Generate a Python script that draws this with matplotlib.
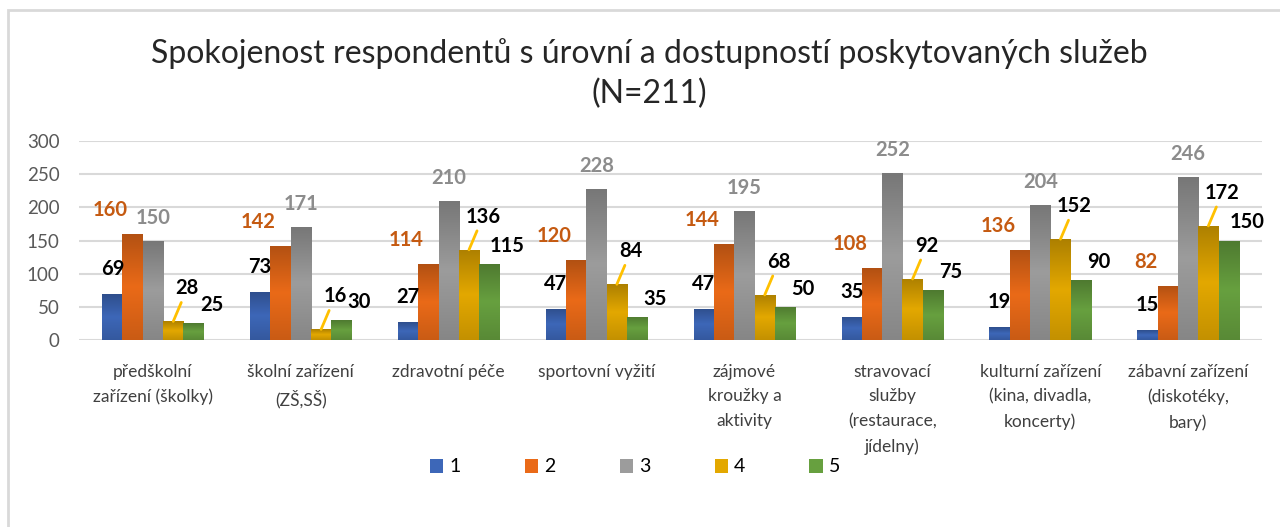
import numpy as np
import matplotlib
matplotlib.use("Agg")
import matplotlib.pyplot as plt
from matplotlib.colors import LinearSegmentedColormap, to_rgb
from matplotlib.patches import Rectangle, Patch

plt.rcParams['font.family'] = ['Lato', 'DejaVu Sans']

# data
categories = [
    "předškolní\nzařízení (školky)",
    "školní zařízení\n(ZŠ,SŠ)",
    "zdravotní péče",
    "sportovní vyžití",
    "zájmové\nkroužky a\naktivity",
    "stravovací\nslužby\n(restaurace,\njídelny)",
    "kulturní zařízení\n(kina, divadla,\nkoncerty)",
    "zábavní zařízení\n(diskotéky,\nbary)",
]
series_names = ["1", "2", "3", "4", "5"]
s1 = [69, 73, 27, 47, 47, 35, 19, 15]
s2 = [160, 142, 114, 120, 144, 108, 136, 82]
s3 = [150, 171, 210, 228, 195, 252, 204, 246]
s4 = [28, 16, 136, 84, 68, 92, 152, 172]
s5 = [25, 30, 115, 35, 50, 75, 90, 150]
series = [s1, s2, s3, s4, s5]
yticks = [0, 50, 100, 150, 200, 250, 300]

title = "Spokojenost respondentů s úrovní a dostupností poskytovaných služeb\n(N=211)"

# styling
colors = ['#3D67B8', '#EA6A18', '#9C9C9C', '#E3A800', '#67A03F']
label_colors = ['black', '#C55A11', '#8C8C8C', 'black', 'black']
# label offsets in pixels (dx, dy) from bar top
label_offsets = [(0, 25), (-22, 24), (0, 23), (14, 33), (18, 18)]
grid_col = '#D9D9D9'


def shade(c, f):
    r, g, b = to_rgb(c)
    return (r * f, g * f, b * f)


fig = plt.figure(figsize=(12.8, 5.27), dpi=100)
ax = fig.add_axes([79 / 1280, 1 - 340 / 527, (1262 - 79) / 1280, (340 - 141) / 527])

# chart border like the Excel chart area
fig.patches.append(Rectangle((8 / 1280, -0.1), 1.2, 1 - 10 / 527 + 0.1,
                             transform=fig.transFigure, fill=False,
                             edgecolor=grid_col, lw=2))

x = np.arange(len(categories))
w = 20.3 / 147.9
grad = np.linspace(0, 1, 256).reshape(-1, 1)

for i, vals in enumerate(series):
    pos = x + (i - 2) * w
    bars = ax.bar(pos, vals, width=w, color=colors[i], zorder=2, linewidth=0)
    cmap = LinearSegmentedColormap.from_list(
        f"g{i}", [shade(colors[i], 0.76), colors[i], shade(colors[i], 0.86)])
    for b in bars:
        bx, bw, bh = b.get_x(), b.get_width(), b.get_height()
        im = ax.imshow(grad, extent=[bx, bx + bw, 0, bh], origin='upper',
                       aspect='auto', cmap=cmap, zorder=2.5)
        im.set_clip_path(b)
    dx, dy = label_offsets[i]
    for p, v in zip(pos, vals):
        kw = {}
        if i == 3:
            kw['arrowprops'] = dict(arrowstyle='-', color='#FFC000', lw=2,
                                    shrinkA=1, shrinkB=0)
        ax.annotate(str(v), xy=(p, v), xytext=(dx * 0.72, dy * 0.72),
                    textcoords='offset points', ha='center', va='center',
                    fontsize=14.5, fontweight='bold', color=label_colors[i],
                    zorder=4, **kw)

ax.set_xlim(-0.5, len(categories) - 0.5)
ax.set_ylim(0, 300)
ax.set_yticks(yticks)
ax.set_xticks(x)
ax.set_xticklabels(categories, fontsize=12.5, color='#404040', linespacing=1.68)
ax.tick_params(axis='y', length=0, labelsize=13.5, labelcolor='#595959', pad=14)
ax.tick_params(axis='x', length=0, pad=17)
ax.grid(axis='y', color=grid_col, lw=1.5, zorder=0)
for s in ax.spines.values():
    s.set_visible(False)
ax.set_axisbelow(True)

fig.text(0.507, 1 - 38 / 527, title, ha='center', va='top', fontsize=23,
         color='#262626', linespacing=1.38)

handles = [Patch(facecolor=c) for c in colors]
fig.legend(handles, series_names, loc='center', bbox_to_anchor=(635 / 1280, 1 - 467 / 527),
           ncol=5, frameon=False, fontsize=14, handlelength=0.7, handleheight=0.7,
           handletextpad=0.3, columnspacing=3.3)

fig.savefig("out.png", dpi=100)
